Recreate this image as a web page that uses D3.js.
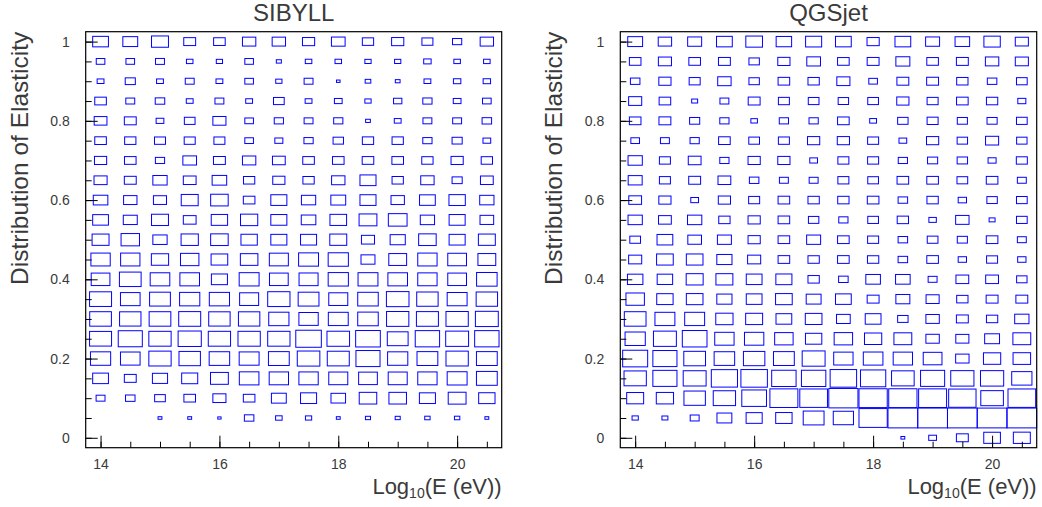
<!DOCTYPE html>
<html>
<head>
<meta charset="utf-8">
<script src="https://cdn.jsdelivr.net/npm/d3@7"></script>
<style>
  body { margin: 0; background: #fff; }
  text { font-family: "Liberation Sans", Arial, sans-serif; fill: #3a3a3a; }
</style>
</head>
<body>
<svg id="chart" width="1042" height="507"></svg>
<script>
// bin centres
const energies = [14, 14.5, 15, 15.5, 16, 16.5, 17, 17.5, 18, 18.5, 19, 19.5, 20, 20.5];
const elasticity = [1, 0.95, 0.9, 0.85, 0.8, 0.75, 0.7, 0.65, 0.6, 0.55, 0.5,
                    0.45, 0.4, 0.35, 0.3, 0.25, 0.2, 0.15, 0.1, 0.05, 0];
const xTicks = [14, 16, 18, 20];
const yTicks = [0, 0.2, 0.4, 0.6, 0.8, 1];

// relative bin content (max = 100), one row per elasticity bin, top row = 1
const sibyll = [
  [53, 50, 57, 40, 39, 45, 45, 41, 46, 38, 41, 37, 31, 45],
  [29, 29, 30, 22, 21, 29, 17, 22, 22, 21, 21, 25, 22, 22],
  [23, 34, 23, 30, 23, 29, 21, 30, 12, 19, 16, 23, 25, 25],
  [39, 30, 32, 23, 30, 23, 36, 23, 26, 21, 28, 31, 26, 29],
  [43, 40, 26, 36, 44, 29, 31, 30, 31, 16, 23, 30, 30, 32],
  [39, 38, 37, 37, 37, 29, 27, 31, 35, 38, 38, 31, 34, 26],
  [41, 39, 31, 46, 40, 45, 43, 39, 39, 39, 39, 38, 41, 38],
  [44, 40, 48, 43, 49, 38, 41, 38, 45, 54, 38, 45, 34, 43],
  [49, 45, 44, 57, 59, 39, 54, 48, 50, 54, 45, 53, 55, 48],
  [53, 47, 57, 43, 55, 58, 54, 49, 56, 60, 63, 48, 54, 46],
  [57, 62, 48, 58, 59, 55, 54, 54, 57, 44, 51, 59, 54, 57],
  [65, 65, 58, 62, 56, 59, 64, 67, 68, 47, 60, 65, 63, 60],
  [63, 73, 66, 66, 54, 67, 63, 64, 68, 67, 66, 65, 63, 69],
  [74, 66, 70, 68, 68, 64, 75, 70, 64, 69, 76, 72, 67, 72],
  [73, 72, 73, 74, 72, 72, 68, 65, 67, 69, 75, 74, 75, 77],
  [74, 81, 75, 78, 75, 75, 75, 86, 76, 83, 70, 82, 77, 82],
  [68, 66, 75, 72, 69, 67, 70, 76, 74, 81, 68, 70, 75, 70],
  [53, 40, 51, 54, 60, 66, 65, 65, 64, 63, 64, 65, 67, 70],
  [30, 32, 36, 39, 44, 39, 50, 54, 49, 59, 59, 54, 60, 55],
  [0, 0, 13, 13, 11, 32, 22, 21, 13, 17, 17, 18, 18, 13],
  [0, 0, 0, 0, 0, 0, 0, 0, 0, 0, 0, 0, 0, 0]
];

const qgsjet = [
  [50, 45, 47, 53, 56, 52, 54, 53, 41, 53, 47, 49, 55, 44],
  [39, 44, 39, 40, 35, 41, 46, 39, 40, 47, 39, 40, 45, 44],
  [32, 41, 37, 45, 35, 39, 38, 44, 29, 40, 40, 38, 32, 36],
  [44, 39, 20, 30, 40, 37, 36, 35, 36, 41, 37, 39, 38, 27],
  [39, 40, 34, 31, 22, 31, 31, 39, 23, 35, 37, 34, 34, 36],
  [29, 30, 31, 39, 36, 37, 41, 41, 37, 26, 41, 35, 44, 35],
  [48, 37, 43, 31, 41, 41, 26, 37, 37, 31, 34, 35, 27, 37],
  [47, 37, 40, 43, 32, 30, 30, 37, 36, 39, 39, 36, 39, 30],
  [43, 41, 26, 41, 37, 39, 38, 38, 39, 32, 38, 28, 35, 36],
  [48, 43, 48, 38, 41, 39, 35, 31, 36, 38, 25, 45, 20, 36],
  [36, 53, 46, 47, 41, 39, 47, 39, 37, 32, 36, 34, 39, 30],
  [44, 56, 56, 51, 44, 39, 38, 39, 38, 32, 39, 28, 37, 28],
  [52, 52, 57, 57, 53, 54, 38, 32, 49, 49, 30, 43, 43, 35],
  [62, 55, 56, 51, 53, 56, 50, 53, 40, 47, 44, 38, 40, 40],
  [73, 67, 67, 58, 57, 53, 56, 46, 53, 35, 45, 40, 38, 48],
  [68, 77, 83, 65, 65, 62, 55, 62, 58, 60, 45, 44, 50, 60],
  [84, 81, 73, 69, 72, 70, 77, 65, 66, 65, 63, 45, 58, 59],
  [75, 81, 77, 88, 89, 82, 82, 89, 85, 76, 81, 78, 78, 68],
  [57, 58, 72, 75, 83, 94, 93, 98, 95, 95, 94, 92, 76, 93],
  [21, 20, 30, 50, 54, 55, 70, 68, 95, 100, 100, 100, 100, 100],
  [0, 0, 0, 0, 0, 0, 0, 0, 0, 13, 26, 40, 56, 57]
];

const panels = [
  { title: 'SIBYLL', data: sibyll, left: 85.7, right: 501.7 },
  { title: 'QGSjet', data: qgsjet, left: 620.3, right: 1036.7 }
];

const svg = d3.select('#chart');
const frameTop = 31.7, frameBottom = 447.7;
const binX = 0.5, binY = 0.05;
// box side as a fraction of the bin
const size = d3.scaleLinear().domain([0, 100]).range([0, 1]);

panels.forEach(p => drawPanel(p));

function drawPanel(p) {
    const x = d3.scaleLinear().domain([13.75, 20.75]).range([p.left, p.right]);
    const y = d3.scaleLinear().domain([-0.025, 1.025]).range([frameBottom, frameTop]);
    const g = svg.append('g');

    const cells = [];
    p.data.forEach((row, j) => row.forEach((v, i) => {
        if (v > 0) cells.push({ e: energies[i], el: elasticity[j], v });
    }));

    g.selectAll('rect.box')
        .data(cells)
        .join('rect')
        .attr('class', 'box')
        .attr('x', d => x(d.e - size(d.v) * binX / 2))
        .attr('y', d => y(d.el + size(d.v) * binY / 2))
        .attr('width', d => x(d.e + size(d.v) * binX / 2) - x(d.e - size(d.v) * binX / 2))
        .attr('height', d => y(d.el - size(d.v) * binY / 2) - y(d.el + size(d.v) * binY / 2))
        .attr('fill', 'none')
        .attr('stroke', '#0000ff')
        .attr('stroke-width', 1);

    // ticks point inwards, minor ones first
    const minorX = d3.axisBottom(x).tickValues(energies).tickSize(-6).tickFormat('');
    const majorX = d3.axisBottom(x).tickValues(xTicks).tickSize(-12).tickPadding(11)
        .tickFormat(d3.format('~g'));
    const minorY = d3.axisLeft(y).tickValues(elasticity).tickSize(-6).tickFormat('');
    const majorY = d3.axisLeft(y).tickValues(yTicks).tickSize(-12).tickPadding(16)
        .tickFormat(d3.format('~g'));

    [minorX, majorX].forEach(a => g.append('g')
        .attr('transform', `translate(0,${frameBottom})`).call(a));
    [minorY, majorY].forEach(a => g.append('g')
        .attr('transform', `translate(${p.left},0)`).call(a));

    g.selectAll('.domain').remove();
    g.selectAll('.tick line').attr('stroke', '#000');
    g.selectAll('.tick text')
        .style('font-family', '"Liberation Sans", Arial, sans-serif')
        .style('font-size', '14px')
        .attr('fill', '#3a3a3a');

    g.append('rect')
        .attr('x', p.left).attr('y', frameTop)
        .attr('width', p.right - p.left).attr('height', frameBottom - frameTop)
        .attr('fill', 'none').attr('stroke', '#000').attr('stroke-width', 1.2);

    g.append('text')
        .attr('x', (p.left + p.right) / 2).attr('y', 21)
        .attr('text-anchor', 'middle')
        .style('font-size', '24px')
        .text(p.title);

    const xt = g.append('text')
        .attr('x', p.right).attr('y', 494)
        .attr('text-anchor', 'end')
        .style('font-size', '22px');
    xt.append('tspan').text('Log');
    xt.append('tspan').attr('dy', 4).style('font-size', '14px').text('10');
    xt.append('tspan').attr('dy', -4).text('(E (eV))');

    g.append('text')
        .attr('transform', `translate(${p.left - 58},${frameTop}) rotate(-90)`)
        .attr('text-anchor', 'end')
        .style('font-size', '24.5px')
        .text('Distribution of Elasticity');
}
</script>
</body>
</html>
